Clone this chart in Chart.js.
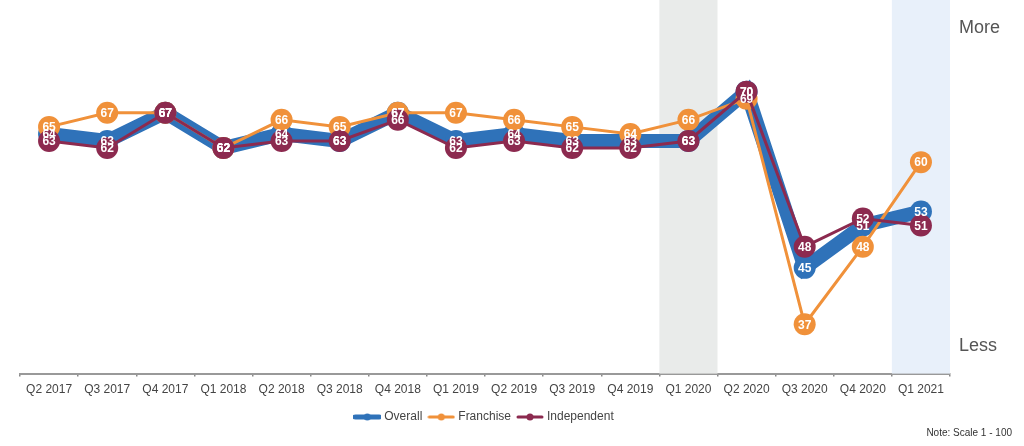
<!DOCTYPE html>
<html>
<head>
<meta charset="utf-8">
<script src="https://cdn.jsdelivr.net/npm/chart.js@4/dist/chart.umd.min.js"></script>
<style>
  html, body { margin: 0; padding: 0; background: #fff; }
  #wrap { position: relative; width: 1024px; height: 446px; }
</style>
</head>
<body>
<div id="wrap"><canvas id="c" width="1024" height="446"></canvas></div>
<script>
// quarterly index, scale 1-100
const quarters = ["Q2 2017", "Q3 2017", "Q4 2017", "Q1 2018", "Q2 2018", "Q3 2018", "Q4 2018", "Q1 2019",
  "Q2 2019", "Q3 2019", "Q4 2019", "Q1 2020", "Q2 2020", "Q3 2020", "Q4 2020", "Q1 2021"];
const overall     = [64, 63, 67, 62, 64, 63, 67, 63, 64, 63, 63, 63, 70, 45, 51, 53];
const franchise   = [65, 67, 67, 62, 66, 65, 67, 67, 66, 65, 64, 66, 69, 37, 48, 60];
const independent = [63, 62, 67, 62, 63, 63, 66, 62, 63, 62, 62, 63, 70, 48, 52, 51];
const shaded = [["Q1 2020", "#e9ebea"], ["Q1 2021", "#e8f0fa"]];

const BLUE = "#2f72b9", ORANGE = "#f0913a", MAROON = "#8c2a4f";
const FONT = "'Liberation Sans', Arial, sans-serif";

// small line+dot swatch for the legend
function swatch(color, lw) {
  const c = document.createElement("canvas");
  c.width = 28; c.height = 12;
  const g = c.getContext("2d");
  g.strokeStyle = color; g.lineWidth = lw; g.lineCap = "round";
  g.beginPath(); g.moveTo(2, 6); g.lineTo(26, 6); g.stroke();
  g.fillStyle = color;
  g.beginPath(); g.arc(14, 6, 3.5, 0, Math.PI * 2); g.fill();
  return c;
}

const bands = {
  id: "bands",
  beforeDatasetsDraw(chart) {
    const { ctx, chartArea: a, scales: { x } } = chart;
    const w = (a.right - a.left) / quarters.length;
    ctx.save();
    for (const [q, col] of shaded) {
      const cx = x.getPixelForValue(quarters.indexOf(q));
      ctx.fillStyle = col;
      ctx.fillRect(cx - w / 2, 0, w, a.bottom);
    }
    ctx.restore();
  },
};

const labels = {
  id: "labels",
  afterDatasetsDraw(chart) {
    const { ctx } = chart;
    ctx.save();
    ctx.font = "bold 12px " + FONT;
    ctx.fillStyle = "#fff";
    ctx.textAlign = "center";
    ctx.textBaseline = "middle";
    [0, 1, 2].forEach((di) => {
      const meta = chart.getDatasetMeta(di);
      meta.data.forEach((p, i) => ctx.fillText(chart.data.datasets[di].data[i], p.x, p.y + 1));
    });
    ctx.restore();
  },
  afterDraw(chart) {
    const { ctx } = chart;
    ctx.save();
    ctx.fillStyle = "#555";
    ctx.font = "18px " + FONT;
    ctx.textBaseline = "middle";
    ctx.fillText("More", 959, 28);
    ctx.fillText("Less", 959, 346);
    ctx.fillStyle = "#333";
    ctx.font = "10px " + FONT;
    ctx.textAlign = "right";
    ctx.fillText("Note: Scale 1 - 100", 1012, 433);
    ctx.restore();
  },
};

const ds = (label, data, color, lw, r, order) => ({
  label, data, borderColor: color, backgroundColor: color, borderWidth: lw,
  pointRadius: r, pointHoverRadius: r, pointBackgroundColor: color, pointBorderWidth: 0,
  tension: 0, order,
});

new Chart(document.getElementById("c"), {
  type: "line",
  data: {
    labels: quarters,
    datasets: [
      ds("Overall", overall, BLUE, 14, 11, 3),
      ds("Franchise", franchise, ORANGE, 3, 11, 2),
      ds("Independent", independent, MAROON, 3, 11, 1),
    ],
  },
  options: {
    responsive: false,
    animation: false,
    layout: { autoPadding: false, padding: { left: 20, right: 74, top: 0, bottom: 13 } },
    scales: {
      x: {
        offset: true,
        grid: { offset: true, drawOnChartArea: false, drawTicks: true, tickLength: 3, color: "#888", lineWidth: 1.5 },
        border: { color: "#999", width: 2 },
        ticks: { color: "#444", font: { family: FONT, size: 12 }, padding: 6, maxRotation: 0, autoSkip: false },
      },
      y: { display: false, min: 30, max: 83 },
    },
    plugins: {
      tooltip: { enabled: false },
      legend: {
        position: "bottom",
        labels: {
          usePointStyle: true,
          pointStyleWidth: 22,
          color: "#444",
          font: { family: FONT, size: 12 },
          padding: 8,
          generateLabels(chart) {
            return chart.data.datasets.map((d, i) => ({
              text: d.label, datasetIndex: i, fontColor: "#444",
              pointStyle: swatch(d.borderColor, i === 0 ? 5 : 3), hidden: false, lineWidth: 0,
            }));
          },
        },
      },
    },
  },
  plugins: [bands, labels],
});
</script>
</body>
</html>
